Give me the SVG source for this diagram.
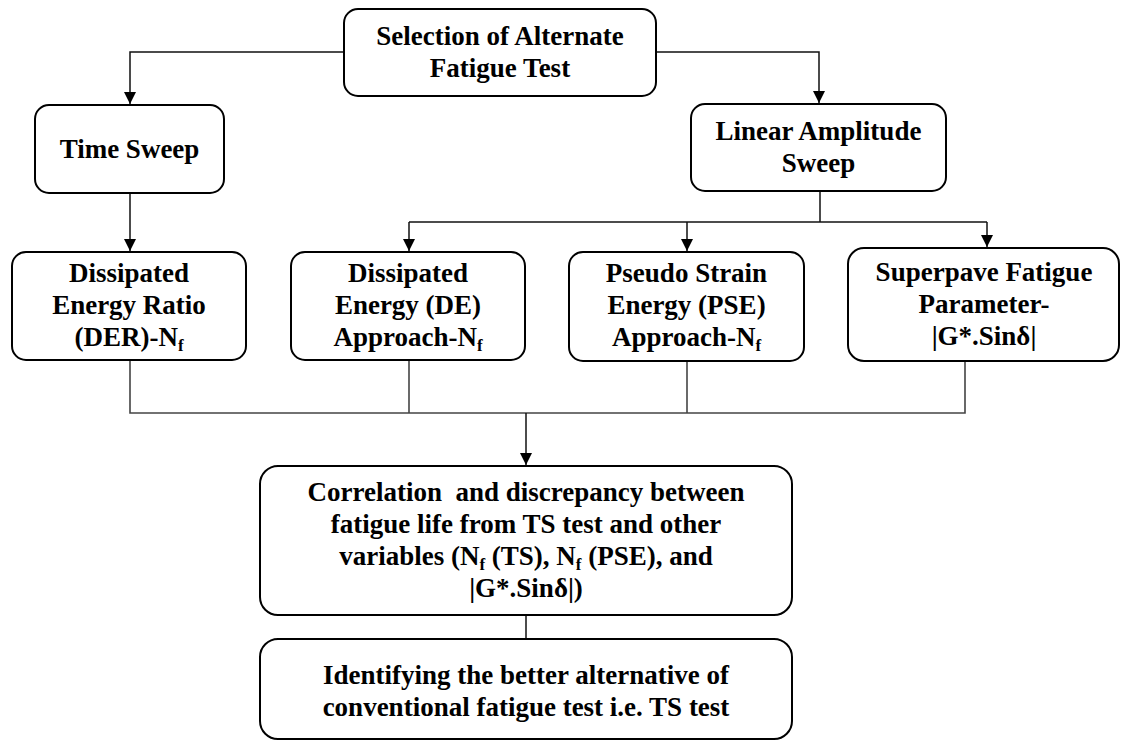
<svg xmlns="http://www.w3.org/2000/svg" width="1122" height="741" viewBox="0 0 1122 741">
<style>
.box{fill:#fff;stroke:#000;stroke-width:2}
.t{font-family:"Liberation Serif","Times New Roman",serif;font-weight:bold;font-size:27px;fill:#000;text-anchor:middle}
.c{fill:none;stroke:#111;stroke-width:1.5}
.c2{fill:none;stroke:#444;stroke-width:1.6}
.sub{font-size:17px}
</style>
<defs>
<marker id="arr" markerUnits="userSpaceOnUse" markerWidth="12" markerHeight="14" refX="12" refY="6" orient="auto">
<path d="M0,0 L12,6 L0,12 z" fill="#000"/>
</marker>
</defs>
<rect width="1122" height="741" fill="#fff"/>
<g id="connectors">
<path class="c" d="M344,52 H130 V104" marker-end="url(#arr)"/>
<path class="c" d="M656,52 H819 V103" marker-end="url(#arr)"/>
<path class="c" d="M130,193 V251" marker-end="url(#arr)"/>
<path class="c" d="M820,191 V222"/>
<path class="c" d="M409,222 H987"/>
<path class="c" d="M409,222 V251" marker-end="url(#arr)"/>
<path class="c" d="M687,222 V251" marker-end="url(#arr)"/>
<path class="c" d="M987,222 V247" marker-end="url(#arr)"/>
<path class="c2" d="M130,360 V413 H965 V361"/>
<path class="c2" d="M409,360 V413"/>
<path class="c2" d="M687,361 V413"/>
<path class="c" d="M526,413 V465" marker-end="url(#arr)"/>
<path class="c" d="M526,615 V639"/>
</g>
<g id="n-top">
<rect class="box" x="344" y="9" width="312" height="87" rx="14"/>
<text class="t" x="500" y="45">Selection of Alternate</text>
<text class="t" x="500" y="77">Fatigue Test</text>
</g>
<g id="n-ts">
<rect class="box" x="35" y="105" width="189" height="88" rx="14"/>
<text class="t" x="129.5" y="158">Time Sweep</text>
</g>
<g id="n-las">
<rect class="box" x="691" y="104" width="255" height="87" rx="14"/>
<text class="t" x="818.5" y="140">Linear Amplitude</text>
<text class="t" x="818.5" y="172">Sweep</text>
</g>
<g id="n-der">
<rect class="box" x="12" y="252" width="234" height="108" rx="14"/>
<text class="t" x="129" y="282">Dissipated</text>
<text class="t" x="129" y="314">Energy Ratio</text>
<text class="t" x="129" y="346">(DER)-N<tspan class="sub" dy="5">f</tspan></text>
</g>
<g id="n-de">
<rect class="box" x="291" y="252" width="234" height="108" rx="14"/>
<text class="t" x="408" y="282">Dissipated</text>
<text class="t" x="408" y="314">Energy (DE)</text>
<text class="t" x="408" y="346">Approach-N<tspan class="sub" dy="5">f</tspan></text>
</g>
<g id="n-pse">
<rect class="box" x="569" y="252" width="235" height="109" rx="14"/>
<text class="t" x="686.5" y="282">Pseudo Strain</text>
<text class="t" x="686.5" y="314">Energy (PSE)</text>
<text class="t" x="686.5" y="346">Approach-N<tspan class="sub" dy="5">f</tspan></text>
</g>
<g id="n-sfp">
<rect class="box" x="848" y="248" width="271" height="113" rx="16"/>
<text class="t" x="984" y="281">Superpave Fatigue</text>
<text class="t" x="984" y="313">Parameter-</text>
<text class="t" x="984" y="345">|G*.Sinδ|</text>
</g>
<g id="n-corr">
<rect class="box" x="260" y="466" width="532" height="149" rx="18"/>
<text class="t" x="526" y="501" xml:space="preserve">Correlation  and discrepancy between</text>
<text class="t" x="526" y="533">fatigue life from TS test and other</text>
<text class="t" x="526" y="565">variables (N<tspan class="sub" dy="5">f</tspan><tspan dy="-5"> (TS), N</tspan><tspan class="sub" dy="5">f</tspan><tspan dy="-5"> (PSE), and</tspan></text>
<text class="t" x="526" y="597">|G*.Sinδ|)</text>
</g>
<g id="n-ident">
<rect class="box" x="260" y="639" width="532" height="100" rx="18"/>
<text class="t" x="526" y="684">Identifying the better alternative of</text>
<text class="t" x="526" y="716">conventional fatigue test i.e. TS test</text>
</g>
</svg>
